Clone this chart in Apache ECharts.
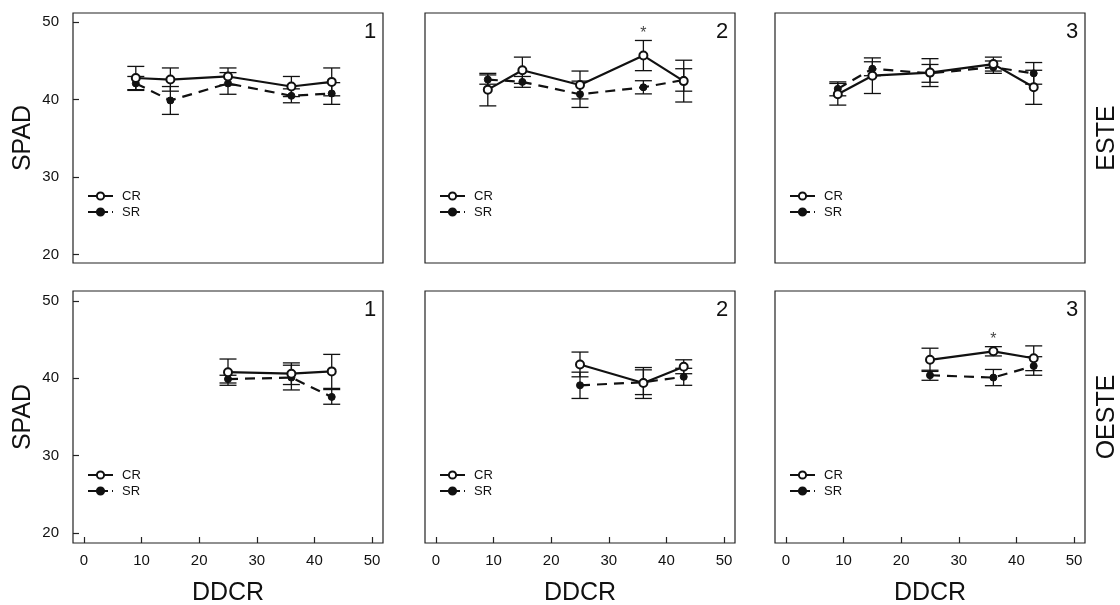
<!DOCTYPE html>
<html>
<head>
<meta charset="utf-8">
<script src="https://cdn.jsdelivr.net/npm/echarts@6/dist/echarts.min.js"></script>
<style>
  html, body { margin: 0; padding: 0; background: #fff; }
  #chart { width: 1120px; height: 605px; }
</style>
</head>
<body>
<div id="chart"></div>
<script>
// Days after irrigation (DDCR) sampled on each side
const DDCR_ESTE = [9, 15, 25, 36, 43];
const DDCR_OESTE = [25, 36, 43];

// ESTE, panel 1
const ESTE1_CR = [42.8, 42.6, 43.0, 41.7, 42.3];
const ESTE1_CR_SE = [1.5, 1.5, 1.1, 1.3, 1.8];
const ESTE1_SR = [42.1, 39.9, 42.1, 40.5, 40.8];
const ESTE1_SR_SE = [0.9, 1.8, 1.4, 0.9, 1.4];

// ESTE, panel 2
const ESTE2_CR = [41.3, 43.8, 41.9, 45.7, 42.4];
const ESTE2_CR_SE = [2.1, 1.7, 1.8, 1.95, 2.7];
const ESTE2_SR = [42.6, 42.3, 40.7, 41.6, 42.55];
const ESTE2_SR_SE = [0.6, 0.7, 1.7, 0.85, 1.45];

// ESTE, panel 3
const ESTE3_CR = [40.7, 43.1, 43.5, 44.6, 41.6];
const ESTE3_CR_SE = [1.4, 2.3, 1.8, 0.9, 2.2];
const ESTE3_SR = [41.4, 44.0, 43.4, 44.2, 43.4];
const ESTE3_SR_SE = [0.9, 0.9, 1.15, 0.8, 1.4];

// OESTE, panel 1
const OESTE1_CR = [40.8, 40.6, 40.9];
const OESTE1_CR_SE = [1.7, 1.4, 2.2];
const OESTE1_SR = [39.9, 40.1, 37.6];
const OESTE1_SR_SE = [0.5, 1.6, 0.95];

// OESTE, panel 2
const OESTE2_CR = [41.8, 39.4, 41.5];
const OESTE2_CR_SE = [1.6, 2.0, 0.9];
const OESTE2_SR = [39.1, 39.5, 40.2];
const OESTE2_SR_SE = [1.7, 1.6, 1.1];

// OESTE, panel 3
const OESTE3_CR = [42.4, 43.5, 42.6];
const OESTE3_CR_SE = [1.5, 0.6, 1.6];
const OESTE3_SR = [40.4, 40.1, 41.6];
const OESTE3_SR_SE = [0.65, 1.05, 1.2];

// Dates with a significant CR vs SR difference
const SIG_ESTE2 = [36];
const SIG_OESTE3 = [36];

// Axis ticks and text
const X_TICKS = [0, 10, 20, 30, 40, 50];
const Y_TICKS = [20, 30, 40, 50];
const PANEL_NUMBERS = ['1', '2', '3'];
const ROW_LABELS = ['ESTE', 'OESTE'];
const X_TITLE = 'DDCR';
const Y_TITLE = 'SPAD';

const FONT = "'Liberation Sans', Arial, sans-serif";
const INK = '#111';

const panels = [
  { x: DDCR_ESTE, cr: ESTE1_CR, crSe: ESTE1_CR_SE, sr: ESTE1_SR, srSe: ESTE1_SR_SE, sig: [] },
  { x: DDCR_ESTE, cr: ESTE2_CR, crSe: ESTE2_CR_SE, sr: ESTE2_SR, srSe: ESTE2_SR_SE, sig: SIG_ESTE2 },
  { x: DDCR_ESTE, cr: ESTE3_CR, crSe: ESTE3_CR_SE, sr: ESTE3_SR, srSe: ESTE3_SR_SE, sig: [] },
  { x: DDCR_OESTE, cr: OESTE1_CR, crSe: OESTE1_CR_SE, sr: OESTE1_SR, srSe: OESTE1_SR_SE, sig: [] },
  { x: DDCR_OESTE, cr: OESTE2_CR, crSe: OESTE2_CR_SE, sr: OESTE2_SR, srSe: OESTE2_SR_SE, sig: [] },
  { x: DDCR_OESTE, cr: OESTE3_CR, crSe: OESTE3_CR_SE, sr: OESTE3_SR, srSe: OESTE3_SR_SE, sig: SIG_OESTE3 }
];

// Panel frames (px)
const COL_LEFT = [73, 425, 775];
const COL_WIDTH = 310;
const ROWS = [
  { top: 13, height: 250, yMin: 18.9, yMax: 51.2 },
  { top: 291, height: 252, yMin: 18.7, yMax: 51.3 }
];

function renderErrorBar(params, api) {
  const x = api.value(0);
  const lo = api.coord([x, api.value(1)]);
  const hi = api.coord([x, api.value(2)]);
  const hw = 8.5;
  const style = { stroke: INK, lineWidth: 1.3, fill: null };
  return {
    type: 'group',
    children: [
      { type: 'line', shape: { x1: lo[0], y1: lo[1], x2: hi[0], y2: hi[1] }, style },
      { type: 'line', shape: { x1: lo[0] - hw, y1: lo[1], x2: lo[0] + hw, y2: lo[1] }, style },
      { type: 'line', shape: { x1: hi[0] - hw, y1: hi[1], x2: hi[0] + hw, y2: hi[1] }, style }
    ]
  };
}

const grid = [], xAxis = [], yAxis = [], series = [], legend = [], graphic = [];

panels.forEach((p, i) => {
  const row = Math.floor(i / 3), col = i % 3;
  const r = ROWS[row];
  const left = COL_LEFT[col];

  grid.push({
    left: left, top: r.top, width: COL_WIDTH, height: r.height,
    show: true, borderColor: '#222', borderWidth: 1.2, backgroundColor: '#fff'
  });

  xAxis.push({
    type: 'value', gridIndex: i, min: -1.9, max: 51.9, position: 'bottom',
    axisLine: { show: false, onZero: false },
    splitLine: { show: false },
    axisTick: { show: row === 1, inside: true, length: 6, lineStyle: { color: '#222', width: 1.2 }, customValues: X_TICKS },
    axisLabel: { show: row === 1, margin: 10, color: INK, fontSize: 15, fontFamily: FONT, customValues: X_TICKS }
  });

  yAxis.push({
    type: 'value', gridIndex: i, min: r.yMin, max: r.yMax, position: 'left',
    axisLine: { show: false, onZero: false },
    splitLine: { show: false },
    axisTick: { show: col === 0, inside: true, length: 6, lineStyle: { color: '#222', width: 1.2 }, customValues: Y_TICKS },
    axisLabel: { show: col === 0, margin: 14, color: INK, fontSize: 15, fontFamily: FONT, customValues: Y_TICKS }
  });

  const bars = [];
  p.x.forEach((d, k) => {
    bars.push([d, p.cr[k] - p.crSe[k], p.cr[k] + p.crSe[k]]);
    bars.push([d, p.sr[k] - p.srSe[k], p.sr[k] + p.srSe[k]]);
  });

  series.push({
    type: 'custom', name: 'error', xAxisIndex: i, yAxisIndex: i,
    renderItem: renderErrorBar, data: bars,
    encode: { x: 0, y: [1, 2] }, z: 1, silent: true
  });

  series.push({
    type: 'line', name: 'SR', xAxisIndex: i, yAxisIndex: i,
    data: p.x.map((d, k) => [d, p.sr[k]]),
    symbol: 'circle', symbolSize: 7,
    lineStyle: { color: INK, width: 2.2, type: [10, 7] },
    itemStyle: { color: INK, borderColor: INK, borderWidth: 1 },
    z: 3, silent: true, animation: false
  });

  series.push({
    type: 'line', name: 'CR', xAxisIndex: i, yAxisIndex: i,
    data: p.x.map((d, k) => [d, p.cr[k]]),
    symbol: 'circle', symbolSize: 8,
    lineStyle: { color: INK, width: 2.2, type: 'solid' },
    itemStyle: { color: '#fff', borderColor: INK, borderWidth: 2 },
    z: 4, silent: true, animation: false
  });

  if (p.sig.length) {
    series.push({
      type: 'scatter', name: 'sig', xAxisIndex: i, yAxisIndex: i,
      data: p.sig.map(d => {
        const k = p.x.indexOf(d);
        return [d, p.cr[k] + p.crSe[k]];
      }),
      symbolSize: 0,
      label: {
        show: true, position: 'top', distance: -1, formatter: '*',
        color: INK, fontSize: 16, fontFamily: FONT
      },
      z: 5, silent: true
    });
  }

  legend.push({
    data: [
      { name: 'CR' },
      { name: 'SR', lineStyle: { type: [8, 4], width: 2 } }
    ],
    orient: 'vertical', selectedMode: false,
    left: left + 14, top: r.top + (row === 0 ? 176 : 177),
    padding: 0, itemGap: 2, itemWidth: 25, itemHeight: 9,
    textStyle: { color: INK, fontSize: 13, fontFamily: FONT, lineHeight: 14, padding: [0, 0, 0, 4] }
  });

  graphic.push({
    type: 'text', left: left + 291, top: r.top + 8,
    style: { text: PANEL_NUMBERS[col], fill: INK, font: '22px ' + FONT }
  });
});

// Axis titles, row labels
COL_LEFT.forEach(l => {
  graphic.push({
    type: 'text', x: l + COL_WIDTH / 2, y: 593,
    style: { text: X_TITLE, fill: INK, font: '25px ' + FONT, align: 'center', verticalAlign: 'middle' }
  });
});
ROWS.forEach((r, ri) => {
  const cy = r.top + r.height / 2;
  graphic.push({
    type: 'text', x: 23, y: cy, rotation: Math.PI / 2,
    style: { text: Y_TITLE, fill: INK, font: '25px ' + FONT, align: 'center', verticalAlign: 'middle' }
  });
  graphic.push({
    type: 'text', x: 1107, y: cy, rotation: Math.PI / 2,
    style: { text: ROW_LABELS[ri], fill: INK, font: '25px ' + FONT, align: 'center', verticalAlign: 'middle' }
  });
});

const chart = echarts.init(document.getElementById('chart'), null, { renderer: 'canvas' });
chart.setOption({
  animation: false,
  backgroundColor: '#fff',
  grid, xAxis, yAxis, series, legend, graphic
});
</script>
</body>
</html>
